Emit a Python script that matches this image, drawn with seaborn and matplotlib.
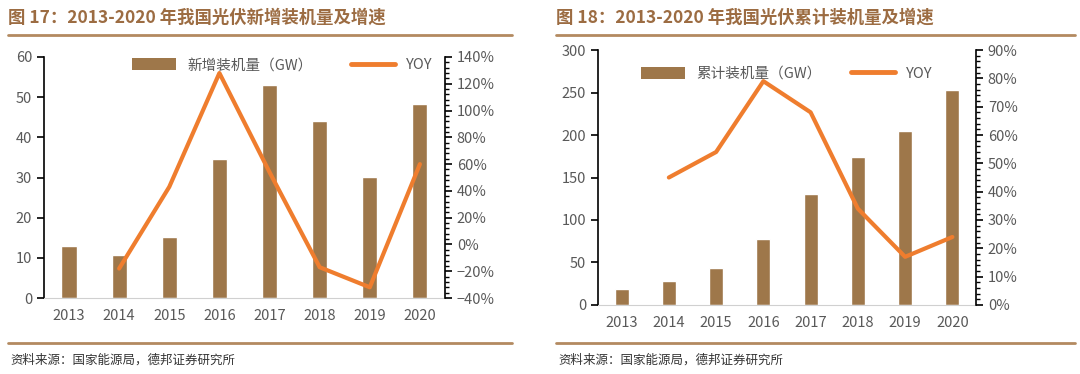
#!/usr/bin/env python3

import matplotlib

matplotlib.use("Agg")

import matplotlib.pyplot as plt
import numpy as np
import seaborn as sns
from matplotlib.lines import Line2D
from matplotlib.patches import Patch
from matplotlib.ticker import AutoMinorLocator, FuncFormatter, MultipleLocator

years = ["2013", "2014", "2015", "2016", "2017", "2018", "2019", "2020"]

new_capacity = [12.9, 10.6, 15.1, 34.5, 53.0, 44.0, 30.1, 48.2]
new_yoy = [np.nan, -18, 43, 128, 54, -17, -32, 60]

total_capacity = [19.4, 28.1, 43.2, 77.4, 130.3, 174.5, 204.3, 253.4]
total_yoy = [np.nan, 45, 54, 79, 68, 34, 17, 24]

titles = [
    "图 17：2013-2020 年我国光伏新增装机量及增速",
    "图 18：2013-2020 年我国光伏累计装机量及增速",
]
bar_labels = ["新增装机量（GW）", "累计装机量（GW）"]
source = "资料来源：国家能源局，德邦证券研究所"

BAR = "#9e774a"
LINE = "#ef7d2e"
TEXT = "#595959"


def panel(fig, rect, values, yoy, bar_label, ylim, ystep, rlim, rstep, anchor_x, legend_y, colsp):
    ax = fig.add_axes(rect)
    x = np.arange(len(years))
    sns.barplot(x=years, y=values, color=BAR, width=0.3, saturation=1, ax=ax)
    ax.set_xlim(-0.5, len(years) - 0.5)
    ax.set_ylim(*ylim)
    ax.yaxis.set_major_locator(MultipleLocator(ystep))

    ax2 = ax.twinx()
    mask = ~np.isnan(np.array(yoy, dtype=float))
    sns.lineplot(
        x=x[mask], y=np.array(yoy)[mask], color=LINE, linewidth=3, sort=False, ax=ax2
    )
    ax2.set_ylim(*rlim)
    ax2.yaxis.set_major_locator(MultipleLocator(rstep))
    ax2.yaxis.set_minor_locator(AutoMinorLocator(5))
    ax2.yaxis.set_major_formatter(FuncFormatter(lambda v, p: f"{v:.0f}%".replace("-", "−")))
    ax2.set_xlim(-0.5, len(years) - 0.5)

    for a in (ax, ax2):
        a.set_xlabel("")
        a.set_ylabel("")
        a.set_facecolor("none")
        for s in a.spines.values():
            s.set_visible(False)
        a.tick_params(labelsize=10.5, labelcolor=TEXT)

    ax.spines["left"].set_visible(True)
    ax.spines["left"].set_color("black")
    ax.spines["left"].set_linewidth(1.2)
    ax.spines["bottom"].set_visible(True)
    ax.spines["bottom"].set_color("#d0d0d0")
    ax.tick_params(axis="y", length=5, width=1.2, color="black")
    ax.tick_params(axis="x", length=0, pad=8)

    ax2.spines["right"].set_visible(True)
    ax2.spines["right"].set_color("black")
    ax2.spines["right"].set_linewidth(1.2)
    ax2.tick_params(axis="y", which="major", length=5, width=1.2, color="black")
    ax2.tick_params(axis="y", which="minor", length=3, width=1, color="black")

    handles = [
        Patch(facecolor=BAR, edgecolor="none"),
        Line2D([], [], color=LINE, linewidth=3.5),
    ]
    leg = ax2.legend(
        handles,
        [bar_label, "YOY"],
        loc="upper center",
        bbox_to_anchor=(anchor_x, legend_y),
        ncol=2,
        frameon=False,
        fontsize=10.5,
        handlelength=3,
        handleheight=0.9,
        columnspacing=colsp,
    )
    for t in leg.get_texts():
        t.set_color(TEXT)
    return ax, ax2


def main():
    sns.set_style("white")
    plt.rcParams["font.family"] = ["Noto Sans CJK SC", "DejaVu Sans"]
    plt.rcParams["axes.unicode_minus"] = False

    fig = plt.figure(figsize=(10.8, 3.74), dpi=100)

    panel(
        fig,
        [0.0407, 0.2032, 0.3713, 0.6444],
        new_capacity,
        new_yoy,
        bar_labels[0],
        (0, 60),
        10,
        (-40, 140),
        20,
        0.595,
        1.05,
        2.6,
    )
    panel(
        fig,
        [0.5537, 0.1845, 0.35, 0.6818],
        total_capacity,
        total_yoy,
        bar_labels[1],
        (0, 300),
        50,
        (0, 90),
        10,
        0.5,
        0.985,
        2.0,
    )

    for x0, x1, title in [(8, 512, titles[0]), (556, 1075, titles[1])]:
        fig.text(
            x0 / 1080,
            1 - 18 / 374,
            title,
            fontsize=12.5,
            fontweight="bold",
            color="#9c6c42",
            va="center",
            ha="left",
        )
        fig.add_artist(
            Line2D([x0 / 1080, x1 / 1080], [1 - 35 / 374] * 2, color="#b38a60", linewidth=2)
        )
        fig.add_artist(
            Line2D([x0 / 1080, x1 / 1080], [1 - 343 / 374] * 2, color="#b38a60", linewidth=2)
        )
        fig.text(
            (x0 + 2) / 1080,
            1 - 360 / 374,
            source,
            fontsize=9,
            color="#333333",
            va="center",
            ha="left",
        )

    fig.savefig("out.png", dpi=100)
    plt.close(fig)


if __name__ == "__main__":
    main()
